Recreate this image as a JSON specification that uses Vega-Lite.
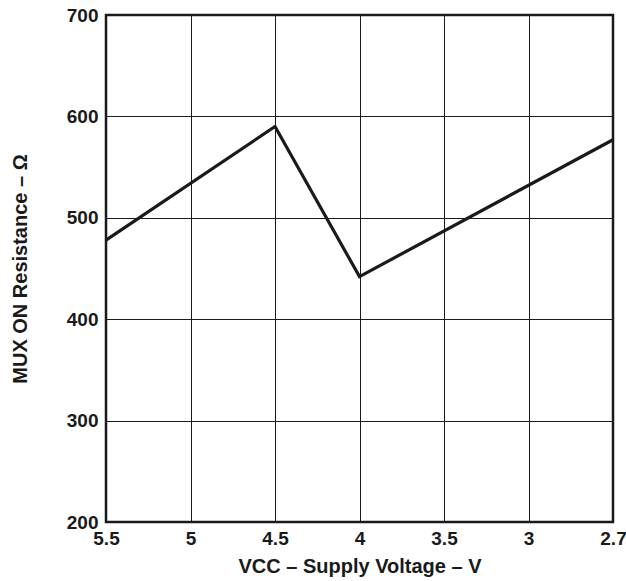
{
  "$schema": "https://vega.github.io/schema/vega-lite/v6.json",
  "width": 507,
  "height": 507,
  "autosize": {"type": "none"},
  "padding": {"left": 106, "top": 15, "right": 13, "bottom": 59},
  "background": "white",
  "config": {
    "font": "Liberation Sans",
    "view": {"stroke": "#1a1a1a", "strokeWidth": 2.5},
    "axis": {
      "labelFont": "Liberation Sans",
      "labelFontWeight": "bold",
      "labelFontSize": 19,
      "labelColor": "#1a1a1a",
      "titleFont": "Liberation Sans",
      "titleFontWeight": "bold",
      "titleFontSize": 20,
      "titleColor": "#1a1a1a",
      "grid": true,
      "gridColor": "#1a1a1a",
      "gridWidth": 1,
      "gridOpacity": 1,
      "domain": false,
      "ticks": false
    }
  },
  "data": {
    "values": [
      {"vcc": "5.5", "r": 478},
      {"vcc": "4.5", "r": 590},
      {"vcc": "4", "r": 442},
      {"vcc": "2.7", "r": 577}
    ]
  },
  "mark": {"type": "line", "color": "#1a1a1a", "strokeWidth": 3.2, "strokeJoin": "miter"},
  "encoding": {
    "x": {
      "field": "vcc",
      "type": "ordinal",
      "sort": null,
      "scale": {"type": "point", "domain": ["5.5", "5", "4.5", "4", "3.5", "3", "2.7"], "padding": 0},
      "axis": {"title": "VCC – Supply Voltage – V", "labelAngle": 0, "labelPadding": 7, "titlePadding": 8}
    },
    "y": {
      "field": "r",
      "type": "quantitative",
      "scale": {"domain": [200, 700], "nice": false, "zero": false},
      "axis": {"title": "MUX ON Resistance – Ω", "values": [200, 300, 400, 500, 600, 700], "labelPadding": 8, "titlePadding": 36}
    }
  }
}
